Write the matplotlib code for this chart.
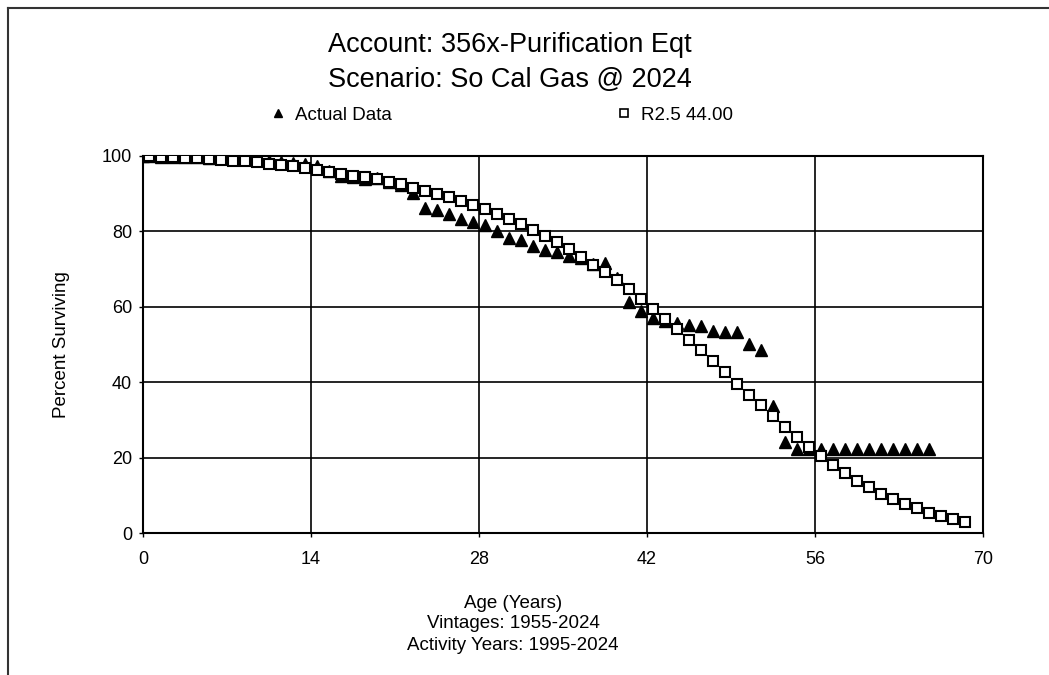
import numpy as np
import matplotlib
matplotlib.use('Agg')
import matplotlib.pyplot as plt
from matplotlib.lines import Line2D

plt.rcParams['font.family'] = ['Liberation Sans', 'DejaVu Sans']

# Edades de la curva observada y su porcentaje de supervivencia
actual_ages = np.array([
    0, 0.5, 1.5, 2.5, 3.5, 4.5, 5.5, 6.5, 7.5, 8.5, 9.5, 10.5, 11.5, 12.5, 13.5, 14.5,
    15.5, 16.5, 17.5, 18.5, 19.5, 20.5, 21.5, 22.5, 23.5, 24.5, 25.5, 26.5, 27.5, 28.5, 29.5,
    30.5, 31.5, 32.5, 33.5, 34.5, 35.5, 36.5, 37.5, 38.5, 39.5, 40.5, 41.5, 42.5, 43.5, 44.5,
    45.5, 46.5, 47.5, 48.5, 49.5, 50.5, 51.5, 52.5, 53.5, 54.5, 55.5,
    56.5, 57.5, 58.5, 59.5, 60.5, 61.5, 62.5, 63.5, 64.5, 65.5])
actual_pct = np.array([
    100.0, 99.9, 99.8, 99.8, 99.7, 99.7, 99.6, 99.5, 99.4, 99.2, 99.0, 98.8, 98.5, 98.2, 97.8, 97.4,
    95.9, 94.8, 94.4, 94.0, 94.1, 93.0, 92.3, 90.1, 86.2, 85.6, 84.6, 83.2, 82.5, 81.7, 80.1,
    78.3, 77.6, 76.0, 75.0, 74.6, 73.4, 72.9, 71.4, 71.6, 67.6, 61.3, 59.0, 57.0, 56.3, 55.6,
    55.2, 54.9, 53.7, 53.4, 53.2, 50.2, 48.5, 33.8, 24.2, 22.4, 22.3,
    22.3, 22.3, 22.3, 22.3, 22.3, 22.3, 22.3, 22.3, 22.3, 22.3])

# Curva Iowa ajustada R2.5 con vida media 44
fitted_ages = np.array([
    0, 0.5, 1.5, 2.5, 3.5, 4.5, 5.5, 6.5, 7.5, 8.5, 9.5, 10.5, 11.5, 12.5, 13.5, 14.5,
    15.5, 16.5, 17.5, 18.5, 19.5, 20.5, 21.5, 22.5, 23.5, 24.5, 25.5, 26.5, 27.5, 28.5, 29.5,
    30.5, 31.5, 32.5, 33.5, 34.5, 35.5, 36.5, 37.5, 38.5, 39.5, 40.5, 41.5, 42.5, 43.5, 44.5,
    45.5, 46.5, 47.5, 48.5, 49.5, 50.5, 51.5, 52.5, 53.5, 54.5, 55.5, 56.5, 57.5, 58.5, 59.5,
    60.5, 61.5, 62.5, 63.5, 64.5, 65.5, 66.5, 67.5, 68.5])
fitted_pct = np.array([
    100.0, 99.9, 99.8, 99.7, 99.5, 99.4, 99.2, 99.0, 98.8, 98.6, 98.3, 98.0, 97.7, 97.3, 96.9, 96.4,
    95.8, 95.3, 94.8, 94.3, 93.8, 93.2, 92.5, 91.6, 90.8, 90.0, 89.1, 88.1, 87.0, 85.9, 84.6,
    83.3, 82.0, 80.4, 78.9, 77.2, 75.3, 73.2, 71.2, 69.2, 67.0, 64.6, 62.0, 59.3, 56.7, 54.0,
    51.2, 48.6, 45.7, 42.8, 39.6, 36.6, 33.9, 31.0, 28.2, 25.4, 22.9, 20.4, 18.0, 16.0, 13.9,
    12.1, 10.4, 9.0, 7.7, 6.5, 5.4, 4.5, 3.7, 3.0])

x_ticks = [0, 14, 28, 42, 56, 70]
y_ticks = [0, 20, 40, 60, 80, 100]

W, H = 1049, 675
fig = plt.figure(figsize=(W / 100, H / 100), dpi=100)
fig.patch.set_facecolor('white')

# marco exterior (solo arriba e izquierda)
fig.add_artist(Line2D([8 / W, 8 / W], [0, 1 - 8 / H], color='#333333', lw=1.5))
fig.add_artist(Line2D([8 / W, 1], [1 - 8 / H, 1 - 8 / H], color='#333333', lw=1.5))

ax = fig.add_axes([143 / W, 1 - 533 / H, 840 / W, 377 / H])

ax.plot(actual_ages, actual_pct, linestyle='none', marker='^', markersize=8.5,
        color='black', zorder=3)
ax.plot(fitted_ages, fitted_pct, linestyle='none', marker='s', markersize=7,
        markerfacecolor='white', markeredgecolor='black', markeredgewidth=1.5, zorder=4)

ax.set_xlim(0, 70)
ax.set_ylim(0, 100)
ax.set_xticks(x_ticks)
ax.set_yticks(y_ticks)
ax.grid(True, color='black', linewidth=1.2)
ax.set_axisbelow(True)
for s in ax.spines.values():
    s.set_linewidth(1.5)
ax.tick_params(axis='both', direction='out', length=3, width=1, labelsize=13)
ax.tick_params(axis='x', pad=10)
ax.tick_params(axis='y', pad=5)

# títulos y etiquetas
fig.text(510 / W, 1 - 45 / H, 'Account: 356x-Purification Eqt', ha='center', va='center', fontsize=19.5)
fig.text(510 / W, 1 - 80 / H, 'Scenario: So Cal Gas @ 2024', ha='center', va='center', fontsize=19.5)
fig.text(62 / W, 1 - 345 / H, 'Percent Surviving', rotation=90, ha='center', va='center', fontsize=13.5)
fig.text(513 / W, 1 - 603 / H, 'Age (Years)', ha='center', va='center', fontsize=13.5)
fig.text(513 / W, 1 - 624 / H, 'Vintages: 1955-2024', ha='center', va='center', fontsize=13.5)
fig.text(513 / W, 1 - 645 / H, 'Activity Years: 1995-2024', ha='center', va='center', fontsize=13.5)

# leyenda
handles = [
    Line2D([], [], linestyle='none', marker='^', markersize=6, color='black'),
    Line2D([], [], linestyle='none', marker='s', markersize=5.5, markerfacecolor='white',
           markeredgecolor='black', markeredgewidth=1.2),
]
fig.legend(handles, ['Actual Data', 'R2.5 44.00'], ncol=2, loc='center',
           bbox_to_anchor=(502 / W, 1 - 115 / H), frameon=False, fontsize=13.5,
           handlelength=0.8, handletextpad=0.5, columnspacing=12.0)

fig.savefig('out.png', dpi=100)
